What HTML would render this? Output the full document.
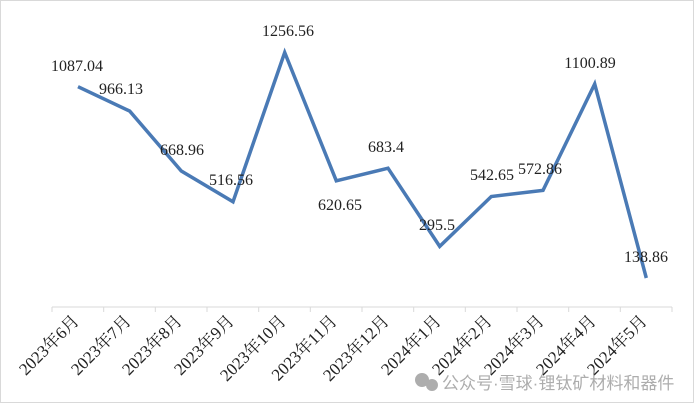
<!DOCTYPE html>
<html><head><meta charset="utf-8"><style>
body{margin:0;background:#fff;}
svg{display:block;font-family:"Liberation Serif","Noto Serif CJK SC",serif;}
</style></head><body>
<svg width="700" height="410" viewBox="0 0 700 410">
<rect x="0.5" y="0.5" width="693" height="402" fill="#fff" stroke="#d9d9d9"/>
<line x1="52" y1="307" x2="672" y2="307" stroke="#d9d9d9"/>
<g stroke="#d9d9d9">
<line x1="52" y1="307" x2="52" y2="312"/><line x1="103.7" y1="307" x2="103.7" y2="312"/><line x1="155.3" y1="307" x2="155.3" y2="312"/><line x1="207" y1="307" x2="207" y2="312"/><line x1="258.7" y1="307" x2="258.7" y2="312"/><line x1="310.3" y1="307" x2="310.3" y2="312"/><line x1="362" y1="307" x2="362" y2="312"/><line x1="413.7" y1="307" x2="413.7" y2="312"/><line x1="465.3" y1="307" x2="465.3" y2="312"/><line x1="517" y1="307" x2="517" y2="312"/><line x1="568.7" y1="307" x2="568.7" y2="312"/><line x1="620.3" y1="307" x2="620.3" y2="312"/><line x1="672" y1="307" x2="672" y2="312"/>
</g>
<polyline fill="none" stroke="#4a7ab5" stroke-width="3.5" stroke-linejoin="miter" points="78,86.7 129.7,111.1 181.3,171 233,201.8 284.7,52.5 336.3,180.8 388,168.2 439.7,246.4 491.3,196.5 543,190.4 594.7,84 646.3,278"/>
<g font-size="16" fill="#222" text-anchor="middle">
<text x="77" y="71">1087.04</text>
<text x="121" y="94">966.13</text>
<text x="182" y="155">668.96</text>
<text x="231" y="185">516.56</text>
<text x="288" y="36">1256.56</text>
<text x="340" y="210">620.65</text>
<text x="386" y="152">683.4</text>
<text x="437" y="230">295.5</text>
<text x="492" y="180">542.65</text>
<text x="540" y="174">572.86</text>
<text x="590" y="68">1100.89</text>
<text x="646" y="262">138.86</text>
</g>
<g font-size="17" fill="#222" text-anchor="end">
<text transform="translate(80,322) rotate(-45)">2023年6月</text>
<text transform="translate(132,322) rotate(-45)">2023年7月</text>
<text transform="translate(183,322) rotate(-45)">2023年8月</text>
<text transform="translate(235,322) rotate(-45)">2023年9月</text>
<text transform="translate(287,322) rotate(-45)">2023年10月</text>
<text transform="translate(338,322) rotate(-45)">2023年11月</text>
<text transform="translate(390,322) rotate(-45)">2023年12月</text>
<text transform="translate(442,322) rotate(-45)">2024年1月</text>
<text transform="translate(493,322) rotate(-45)">2024年2月</text>
<text transform="translate(545,322) rotate(-45)">2024年3月</text>
<text transform="translate(597,322) rotate(-45)">2024年4月</text>
<text transform="translate(648,322) rotate(-45)">2024年5月</text>
</g>
<g fill="#999" opacity="0.8">
<circle cx="422" cy="380" r="7"/><circle cx="432" cy="385" r="6"/>
<text x="442" y="389" font-size="17" font-family="Liberation Sans,Noto Sans CJK SC,sans-serif">公众号·雪球·锂钛矿材料和器件</text>
</g>
</svg>
</body></html>
